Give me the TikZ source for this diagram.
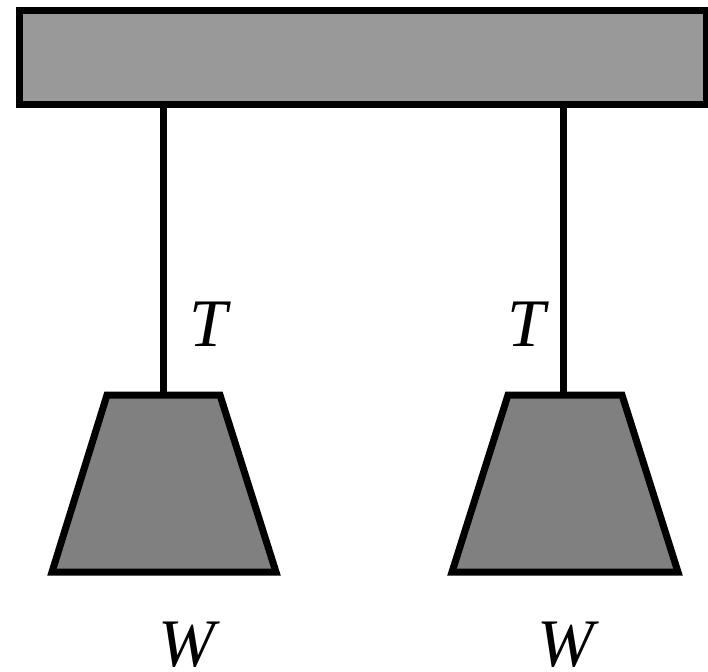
\documentclass[tikz,border=0pt]{standalone}
\usepackage{fontspec}
\setmainfont{Liberation Serif}
\begin{document}
\begin{tikzpicture}[x=1pt,y=-1pt,
  beam/.style={draw=black, fill=black!40, line width=7pt, minimum width=687pt, minimum height=94pt, inner sep=0pt},
  weight/.style={draw=black, fill=black!50, line width=7pt, line join=miter},
  rope/.style={draw=black, line width=7pt},
  lab/.style={font=\fontsize{68}{80}\selectfont\itshape, inner sep=0pt}]
\useasboundingbox (0,0) rectangle (708,671);
\node[beam] (beam) at (362.5,58) {};
\coordinate (w1tl) at (107,395);
\coordinate (w1tr) at (220,395);
\coordinate (w1br) at (276,572);
\coordinate (w1bl) at (52,572);
\coordinate (w2tl) at (508,395);
\coordinate (w2tr) at (622,395);
\coordinate (w2br) at (678,572);
\coordinate (w2bl) at (452,572);
\draw[weight] (w1tl) -- (w1tr) -- (w1br) -- (w1bl) -- cycle;
\draw[weight] (w2tl) -- (w2tr) -- (w2br) -- (w2bl) -- cycle;
\coordinate (r1) at (163,105);
\coordinate (r2) at (563,105);
\coordinate (e1) at (163,395);
\coordinate (e2) at (563,395);
\draw[rope] (r1) -- (e1);
\draw[rope] (r2) -- (e2);
\node[lab] (t1) at (208,324) {T};
\node[lab] (t2) at (526,324) {T};
\node[lab] (wl1) at (187,645) {W};
\node[lab] (wl2) at (566,645) {W};
\end{tikzpicture}
\end{document}
